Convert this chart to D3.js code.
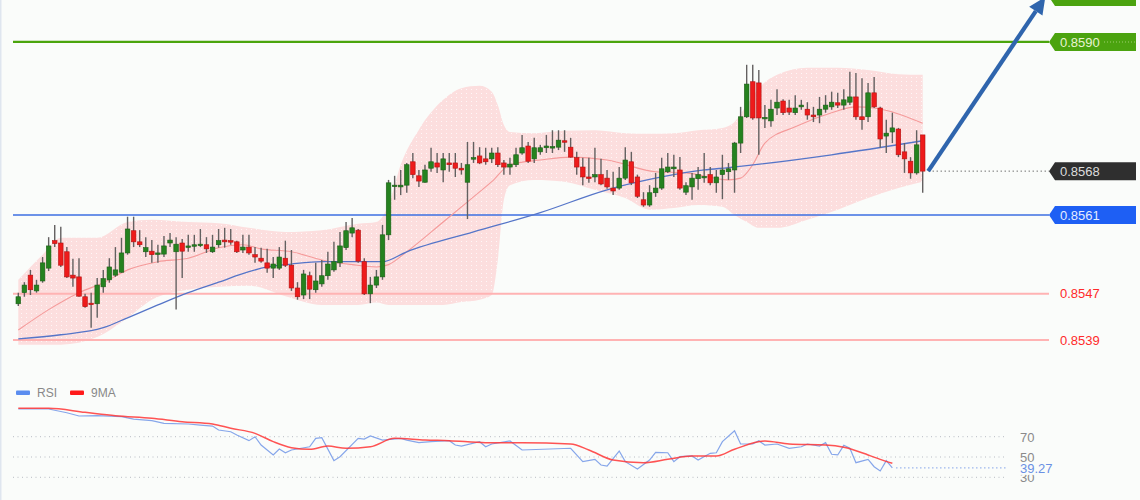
<!DOCTYPE html>
<html><head><meta charset="utf-8">
<script src="https://cdn.jsdelivr.net/npm/d3@7"></script>
<style>
html,body{margin:0;padding:0;background:#fafcfa;overflow:hidden;}
svg{display:block;font-family:"Liberation Sans",Arial,sans-serif;}
</style></head><body>
<svg id="c" width="1140" height="500"></svg>
<script>
// ---------- candle data (150 bars) ----------
const opens = [0.85452,0.85471,0.85501,0.85474,0.85491,0.85513,0.85560,0.85556,0.85541,0.85501,
0.85498,0.85464,0.85453,0.85452,0.85481,0.85493,0.85501,0.85506,0.85539,0.85577,
0.85558,0.85541,0.85542,0.85537,0.85537,0.85556,0.85541,0.85556,0.85549,0.85551,
0.85553,0.85553,0.85541,0.85553,0.85561,0.85560,0.85558,0.85544,0.85549,0.85536,
0.85530,0.85522,0.85513,0.85513,0.85530,0.85518,0.85479,0.85467,0.85500,0.85476,
0.85486,0.85500,0.85510,0.85522,0.85548,0.85573,0.85578,0.85524,0.85469,0.85484,
0.85498,0.85570,0.85654,0.85652,0.85655,0.85695,0.85671,0.85660,0.85684,0.85693,
0.85681,0.85693,0.85693,0.85684,0.85660,0.85700,0.85705,0.85700,0.85700,0.85710,
0.85693,0.85686,0.85690,0.85710,0.85722,0.85700,0.85712,0.85719,0.85720,0.85720,
0.85731,0.85720,0.85702,0.85686,0.85669,0.85669,0.85673,0.85667,0.85650,0.85650,
0.85667,0.85695,0.85669,0.85630,0.85621,0.85642,0.85650,0.85678,0.85683,0.85681,
0.85643,0.85652,0.85666,0.85669,0.85673,0.85659,0.85673,0.85678,0.85681,0.85727,
0.85772,0.85832,0.85830,0.85770,0.85765,0.85787,0.85799,0.85787,0.85779,0.85789,
0.85785,0.85775,0.85775,0.85785,0.85789,0.85796,0.85792,0.85797,0.85806,0.85772,
0.85772,0.85813,0.85787,0.85739,0.85746,0.85751,0.85712,0.85696,0.85676,0.85741];
const highs = [0.85471,0.85489,0.85510,0.85493,0.85532,0.85566,0.85587,0.85584,0.85549,0.85529,
0.85530,0.85469,0.85471,0.85496,0.85510,0.85530,0.85549,0.85565,0.85601,0.85601,
0.85578,0.85566,0.85561,0.85553,0.85568,0.85573,0.85566,0.85563,0.85570,0.85570,
0.85580,0.85566,0.85570,0.85580,0.85582,0.85580,0.85560,0.85570,0.85570,0.85549,
0.85548,0.85546,0.85532,0.85549,0.85560,0.85544,0.85489,0.85510,0.85507,0.85522,
0.85527,0.85541,0.85558,0.85575,0.85592,0.85599,0.85580,0.85530,0.85498,0.85510,
0.85587,0.85664,0.85671,0.85681,0.85693,0.85710,0.85681,0.85690,0.85719,0.85710,
0.85710,0.85710,0.85710,0.85693,0.85729,0.85729,0.85720,0.85719,0.85719,0.85720,
0.85698,0.85702,0.85719,0.85741,0.85729,0.85736,0.85724,0.85741,0.85749,0.85749,
0.85749,0.85736,0.85712,0.85702,0.85702,0.85719,0.85700,0.85681,0.85678,0.85686,
0.85720,0.85712,0.85673,0.85643,0.85655,0.85676,0.85702,0.85710,0.85707,0.85703,
0.85660,0.85676,0.85686,0.85710,0.85686,0.85681,0.85707,0.85693,0.85729,0.85789,
0.85861,0.85861,0.85852,0.85792,0.85801,0.85819,0.85802,0.85801,0.85809,0.85801,
0.85797,0.85789,0.85806,0.85809,0.85815,0.85813,0.85819,0.85849,0.85847,0.85838,
0.85830,0.85840,0.85789,0.85767,0.85779,0.85753,0.85727,0.85703,0.85749,0.85741];
const lows = [0.85448,0.85464,0.85467,0.85471,0.85488,0.85508,0.85549,0.85515,0.85496,0.85481,
0.85464,0.85445,0.85411,0.85428,0.85471,0.85488,0.85498,0.85505,0.85536,0.85549,
0.85549,0.85532,0.85522,0.85522,0.85532,0.85549,0.85442,0.85496,0.85541,0.85541,
0.85549,0.85539,0.85539,0.85548,0.85548,0.85553,0.85539,0.85539,0.85536,0.85522,
0.85522,0.85505,0.85496,0.85510,0.85515,0.85474,0.85459,0.85460,0.85460,0.85471,
0.85481,0.85493,0.85507,0.85515,0.85544,0.85566,0.85522,0.85467,0.85453,0.85479,
0.85493,0.85561,0.85630,0.85638,0.85642,0.85667,0.85652,0.85659,0.85678,0.85676,
0.85660,0.85678,0.85669,0.85673,0.85597,0.85693,0.85691,0.85690,0.85693,0.85686,
0.85673,0.85673,0.85686,0.85707,0.85693,0.85693,0.85707,0.85710,0.85710,0.85715,
0.85712,0.85702,0.85673,0.85655,0.85659,0.85660,0.85655,0.85649,0.85638,0.85647,
0.85664,0.85655,0.85633,0.85618,0.85618,0.85635,0.85647,0.85676,0.85669,0.85647,
0.85638,0.85630,0.85647,0.85659,0.85655,0.85642,0.85631,0.85664,0.85642,0.85710,
0.85770,0.85767,0.85707,0.85753,0.85755,0.85775,0.85775,0.85775,0.85775,0.85784,
0.85767,0.85763,0.85761,0.85779,0.85784,0.85787,0.85784,0.85792,0.85767,0.85750,
0.85763,0.85787,0.85719,0.85710,0.85727,0.85703,0.85676,0.85666,0.85673,0.85642];
const closes = [0.85464,0.85484,0.85476,0.85484,0.85522,0.85551,0.85555,0.85518,0.85498,0.85496,
0.85465,0.85447,0.85452,0.85484,0.85495,0.85515,0.85510,0.85539,0.85580,0.85558,
0.85553,0.85548,0.85536,0.85539,0.85551,0.85561,0.85554,0.85542,0.85551,0.85553,
0.85554,0.85546,0.85549,0.85560,0.85558,0.85559,0.85541,0.85549,0.85539,0.85532,
0.85525,0.85513,0.85520,0.85532,0.85518,0.85479,0.85464,0.85503,0.85477,0.85491,
0.85500,0.85520,0.85524,0.85551,0.85577,0.85582,0.85525,0.85469,0.85484,0.85498,
0.85570,0.85659,0.85655,0.85655,0.85690,0.85673,0.85662,0.85681,0.85695,0.85686,
0.85700,0.85690,0.85684,0.85681,0.85690,0.85702,0.85693,0.85695,0.85710,0.85690,
0.85686,0.85691,0.85707,0.85719,0.85696,0.85719,0.85719,0.85722,0.85721,0.85732,
0.85730,0.85703,0.85686,0.85669,0.85667,0.85673,0.85657,0.85652,0.85645,0.85667,
0.85698,0.85659,0.85636,0.85621,0.85642,0.85650,0.85683,0.85686,0.85686,0.85650,
0.85654,0.85667,0.85673,0.85670,0.85659,0.85669,0.85681,0.85683,0.85727,0.85772,
0.85828,0.85770,0.85770,0.85771,0.85785,0.85797,0.85779,0.85780,0.85787,0.85792,
0.85775,0.85772,0.85785,0.85792,0.85797,0.85792,0.85801,0.85806,0.85772,0.85767,
0.85813,0.85789,0.85734,0.85744,0.85753,0.85707,0.85700,0.85676,0.85724,0.85679];

// ---------- Bollinger band (20) read at sample bars ----------
const bandIdx = [0,4,7,13,18,22,28,33,38,44,50,56,59,61,63,66,70,73,76,78,79,80,81,85,90,95,100,104,108,112,116,118,120,122,125,130,135,140,145,149];
const bandUpper = [0.85493,0.85536,0.85565,0.85565,0.85592,0.85596,0.85592,0.85590,0.85582,0.85575,0.85578,0.85589,0.85592,0.85621,0.85690,0.85750,0.85801,0.85821,0.85825,0.85815,0.85792,0.85758,0.85746,0.85744,0.85748,0.85749,0.85744,0.85743,0.85744,0.85749,0.85753,0.85763,0.85792,0.85821,0.85844,0.85856,0.85856,0.85852,0.85845,0.85844];
const bandLower = [0.85382,0.85382,0.85382,0.85395,0.85428,0.85459,0.85476,0.85481,0.85483,0.85465,0.85450,0.85450,0.85454,0.85450,0.85450,0.85450,0.85450,0.85455,0.85459,0.85467,0.85527,0.85630,0.85655,0.85664,0.85661,0.85647,0.85633,0.85613,0.85616,0.85621,0.85618,0.85604,0.85592,0.85582,0.85582,0.85596,0.85613,0.85633,0.85650,0.85661];
// middle band (red) and long moving average (blue)
const midIdx = [0,5,10,14,18,23,28,33,37,40,45,50,55,59,61,64,70,75,78,81,86,91,97,105,110,117,119,121,123,128,134,138,141,149];
const midVal = [0.85407,0.85442,0.85471,0.85488,0.85510,0.85524,0.85530,0.85548,0.85553,0.85546,0.85541,0.85527,0.85519,0.85515,0.85519,0.85541,0.85592,0.85635,0.85661,0.85690,0.85698,0.85703,0.85698,0.85678,0.85676,0.85664,0.85667,0.85690,0.85727,0.85755,0.85779,0.85789,0.85787,0.85761];
const maIdx = [0,7,14,18,23,28,33,38,41,45,50,55,60,64,75,86,97,106,113,117,134,149];
const maVal = [0.85392,0.85399,0.85411,0.85428,0.85450,0.85471,0.85489,0.85507,0.85515,0.85520,0.85524,0.85524,0.85524,0.85541,0.85575,0.85608,0.85647,0.85669,0.85681,0.85685,0.85707,0.85731];

// ---------- horizontal levels ----------
const levelValues = [0.85977, 0.85900, 0.85679, 0.85604, 0.85469, 0.85390];
const levelLabels = ["", "0.8590", "0.8568", "0.8561", "0.8547", "0.8539"];
const levelKinds  = ["green", "green", "last", "blue", "red", "red"];
const arrowTarget = {idx: 169.2, price: 0.85977};

// ---------- RSI panel ----------
const rsiIdx = [0,5,8,10,13,17,19,22,24,28,30,32,33,35,36,38,39,40,42,43,44,45,48,49,50,52,53,56,57,58,60,63,64,66,68,71,72,73,76,77,78,81,83,91,93,95,96,97,99,100,102,104,105,107,108,109,111,112,114,115,116,118,119,121,122,123,125,127,129,130,132,133,134,135,136,137,138,140,141,142,143,144];
const rsiVal = [97.3,97.3,93.6,90.4,90.7,89.7,87.4,85.8,83.2,82.5,81.5,80.5,76.6,74.9,71.7,66.1,70,61.8,52,57.9,54.2,56.9,60.1,68.4,69,46.4,50.3,68.4,67.7,70.7,66.7,68.4,66.7,64.1,65.1,66.1,61.8,60.8,65.1,60.1,62.8,65.8,56.9,58.6,45.4,47.7,42.1,41.1,55.9,45.4,38.2,47,54.6,54.2,45.4,50.3,51,47,53.6,54.2,65.1,75.9,62.8,62.8,66.1,61.8,62.8,58.6,60.1,62.8,60.8,64.1,52.7,52,61.5,58.6,44.4,47.7,40.4,36.2,46.4,39.27];
const rsiMaIdx = [0,5,11,16,22,27,32,35,39,42,45,48,51,54,58,62,67,71,77,83,91,94,98,103,107,111,115,118,123,127,133,136,140,142,144];
const rsiMaVal = [98,98,94,90.7,88.1,84.8,82.5,78.3,73.3,65.1,59.2,57.6,60.8,58.6,60.1,68.4,66.7,66.1,64.1,64.1,62.8,56.9,47,44.4,47.7,51,51,57.6,65.8,62.8,61.8,59.6,52,47.7,43.8];
const rsiTicks = [70, 50, 30];
const legendNames = ["RSI", "9MA"];

// ================== drawing ==================
const svg = d3.select("#c");
const N = opens.length;
const L = 13, R = 1049;
const x = d3.scaleLinear().domain([0, N - 1]).range([18.3, 922.7]);
const y = d3.scaleLinear().domain([0.8539, 0.8590]).range([340, 42]);
const yr = d3.scaleLinear().domain([30, 70]).range([477.3, 436.7]);

const defs = svg.append("defs");
const pat = defs.append("pattern").attr("id", "dots").attr("width", 5).attr("height", 4)
  .attr("patternUnits", "userSpaceOnUse");
pat.append("rect").attr("width", 5).attr("height", 4).attr("fill", "#fcdede");
pat.append("rect").attr("x", 1).attr("y", 1).attr("width", 1).attr("height", 1).attr("fill", "#fff").attr("opacity", 0.75);

svg.append("rect").attr("x", 0).attr("y", 0).attr("width", 1.5).attr("height", 500).attr("fill", "#dfe6ef");

// band
const bandData = bandIdx.map((d, i) => ({i: d, u: bandUpper[i], l: bandLower[i]}));
svg.append("path").datum(bandData)
  .attr("d", d3.area().curve(d3.curveMonotoneX).x(d => x(d.i)).y0(d => y(d.l)).y1(d => y(d.u)))
  .attr("fill", "url(#dots)");

// level lines
levelValues.forEach((v, k) => {
  const kind = levelKinds[k];
  const yy = y(v);
  if (kind === "green") {
    svg.append("line").attr("x1", L).attr("x2", R).attr("y1", yy - 1.5).attr("y2", yy - 1.5)
      .attr("stroke", "#cfe3c0").attr("stroke-width", 1);
    svg.append("line").attr("x1", L).attr("x2", R).attr("y1", yy).attr("y2", yy)
      .attr("stroke", "#4aa50c").attr("stroke-width", 2);
  } else if (kind === "blue") {
    svg.append("line").attr("x1", L).attr("x2", R).attr("y1", yy).attr("y2", yy)
      .attr("stroke", "#3d6fe2").attr("stroke-width", 1.4);
  } else if (kind === "red") {
    svg.append("line").attr("x1", L).attr("x2", R).attr("y1", yy).attr("y2", yy)
      .attr("stroke", "#ffb3b3").attr("stroke-width", 2);
  } else if (kind === "last") {
    svg.append("line").attr("x1", x(N - 1) + 6).attr("x2", R).attr("y1", yy).attr("y2", yy)
      .attr("stroke", "#333").attr("stroke-width", 1).attr("stroke-dasharray", "1,3");
  }
});

// moving averages
const lineGen = d3.line().curve(d3.curveMonotoneX).x(d => x(d[0])).y(d => y(d[1]));
svg.append("path").datum(midIdx.map((d, i) => [d, midVal[i]])).attr("d", lineGen)
  .attr("fill", "none").attr("stroke", "#f59a9a").attr("stroke-width", 1.1);
svg.append("path").datum(maIdx.map((d, i) => [d, maVal[i]])).attr("d", lineGen)
  .attr("fill", "none").attr("stroke", "#5575c8").attr("stroke-width", 1.3);

// candles
const candles = d3.range(N).map(i => ({i, o: opens[i], h: highs[i], l: lows[i], c: closes[i]}));
const g = svg.append("g");
g.selectAll("line.w").data(candles).join("line").attr("class", "w")
  .attr("x1", d => x(d.i)).attr("x2", d => x(d.i))
  .attr("y1", d => y(d.h)).attr("y2", d => y(d.l))
  .attr("stroke", "#636060").attr("stroke-width", 1.4);
g.selectAll("rect.b").data(candles).join("rect").attr("class", "b")
  .attr("x", d => x(d.i) - 2.3).attr("width", 4.6)
  .attr("y", d => Math.min(y(d.o), y(d.c)))
  .attr("height", d => Math.max(1.5, Math.abs(y(d.o) - y(d.c))))
  .attr("fill", d => d.c >= d.o ? "#25821f" : "#ee1b1b")
  .attr("stroke", d => d.c >= d.o ? "#1b5e16" : "#b31212").attr("stroke-width", 0.6);

// arrow
const ax1 = x(N - 1) + 5.5, ay1 = y(closes[N - 1]);
const ax2 = x(arrowTarget.idx), ay2 = y(arrowTarget.price);
const ang = Math.atan2(ay2 - ay1, ax2 - ax1);
const headLen = 17, headW = 8;
const bx = ax2 - headLen * Math.cos(ang), by = ay2 - headLen * Math.sin(ang);
svg.append("line").attr("x1", ax1).attr("y1", ay1).attr("x2", bx).attr("y2", by)
  .attr("stroke", "#2f65ad").attr("stroke-width", 4.2);
svg.append("polygon").attr("points", [
  [ax2, ay2],
  [bx + headW * Math.sin(ang), by - headW * Math.cos(ang)],
  [bx - headW * Math.sin(ang), by + headW * Math.cos(ang)]
].map(p => p.join(",")).join(" ")).attr("fill", "#2f65ad");

// level labels
const boxStyle = {
  green: {fill: "#4ba30f", text: "#e9f4d2"},
  last: {fill: "#2f2f2f", text: "#dcdcdc"},
  blue: {fill: "#1e5ff4", text: "#e4ecff"}
};
levelValues.forEach((v, k) => {
  const kind = levelKinds[k];
  const yy = y(v);
  if (boxStyle[kind]) {
    const s = boxStyle[kind];
    svg.append("path")
      .attr("d", `M${R},${yy} L${R + 6},${yy - 9} L1136,${yy - 9} L1136,${yy + 9} L${R + 6},${yy + 9} Z`)
      .attr("fill", s.fill);
    if (kind === "green") {
      svg.append("line").attr("x1", 1104).attr("x2", 1136).attr("y1", yy).attr("y2", yy)
        .attr("stroke", "#9fd070").attr("stroke-width", 1).attr("stroke-dasharray", "1,2");
    }
    if (levelLabels[k]) {
      svg.append("text").attr("x", 1060).attr("y", yy + 4.6).attr("font-size", 13)
        .attr("fill", s.text).text(levelLabels[k]);
    }
  } else {
    svg.append("text").attr("x", 1060).attr("y", yy + 4.6).attr("font-size", 13)
      .attr("fill", "#ff2a2a").text(levelLabels[k]);
  }
});

// ---------- RSI panel ----------
rsiTicks.forEach(t => {
  svg.append("line").attr("x1", L).attr("x2", 1007).attr("y1", yr(t)).attr("y2", yr(t))
    .attr("stroke", "#b8bcc4").attr("stroke-width", 1).attr("stroke-dasharray", "1,3.5");
  svg.append("text").attr("x", 1020).attr("y", yr(t) + 5).attr("font-size", 13)
    .attr("fill", "#8a8a8a").text(t);
});
const rl = d3.line().x(d => x(d[0])).y(d => yr(d[1]));
svg.append("path").datum(rsiIdx.map((d, i) => [d, rsiVal[i]])).attr("d", rl)
  .attr("fill", "none").attr("stroke", "#86a6ea").attr("stroke-width", 1.2);
svg.append("path").datum(rsiMaIdx.map((d, i) => [d, rsiMaVal[i]]))
  .attr("d", d3.line().curve(d3.curveMonotoneX).x(d => x(d[0])).y(d => yr(d[1])))
  .attr("fill", "none").attr("stroke", "#ff3535").attr("stroke-width", 1.5).attr("opacity", 0.85);
const lastR = rsiVal[rsiVal.length - 1];
const lastRi = rsiIdx[rsiIdx.length - 1];
svg.append("line").attr("x1", x(lastRi) + 4).attr("x2", 1007).attr("y1", yr(lastR)).attr("y2", yr(lastR))
  .attr("stroke", "#6d93e6").attr("stroke-width", 1.2).attr("stroke-dasharray", "1,3");
svg.append("rect").attr("x", 1018).attr("y", yr(lastR) - 6).attr("width", 40).attr("height", 13).attr("fill", "#fafcfa");
svg.append("text").attr("x", 1020).attr("y", yr(lastR) + 5).attr("font-size", 13)
  .attr("fill", "#6a90e4").text(lastR.toFixed(2));

// legend
const legColors = ["#5b8def", "#ff1a1a"];
const legX = [16, 70];
legendNames.forEach((n, k) => {
  svg.append("rect").attr("x", legX[k]).attr("y", 390.5).attr("width", 14).attr("height", 4.5)
    .attr("rx", 1).attr("fill", legColors[k]);
  svg.append("text").attr("x", legX[k] + 21).attr("y", 397).attr("font-size", 12)
    .attr("fill", "#888").text(n);
});
</script>
</body></html>
